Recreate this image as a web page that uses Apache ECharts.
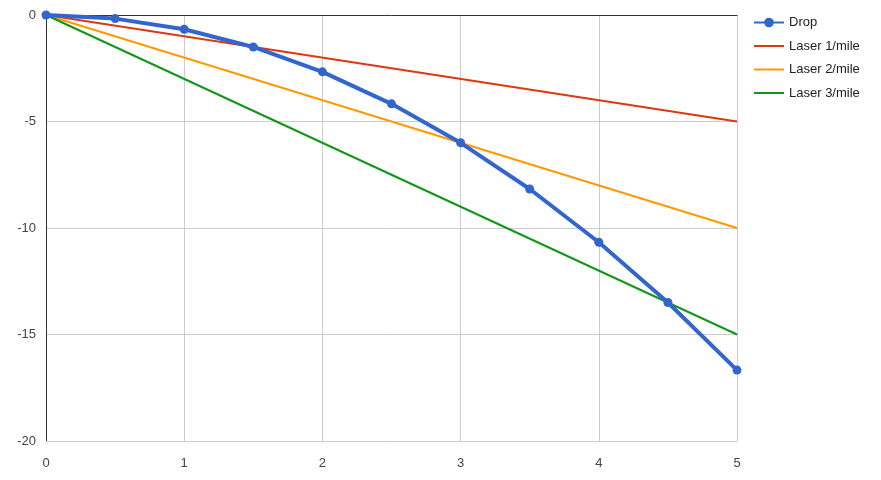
<!DOCTYPE html>
<html>
<head>
<meta charset="utf-8">
<script src="https://cdn.jsdelivr.net/npm/echarts@6/dist/echarts.min.js"></script>
<style>html,body{margin:0;padding:0;background:#fff}#c{width:881px;height:480px}</style>
</head>
<body>
<div id="c"></div>
<script>
const miles = [0, 0.5, 1, 1.5, 2, 2.5, 3, 3.5, 4, 4.5, 5];
const drop = [0, -0.17, -0.67, -1.5, -2.67, -4.17, -6, -8.17, -10.67, -13.5, -16.67];
const laserX = [0, 5];
const laser1 = [0, -5];
const laser2 = [0, -10];
const laser3 = [0, -15];
const seriesNames = ['Drop', 'Laser 1/mile', 'Laser 2/mile', 'Laser 3/mile'];
const yTicks = [0, -5, -10, -15, -20];

const font = 'Liberation Sans, Arial, sans-serif';
const lineIcon = 'path://M0,0 L30,0 L30,2 L0,2 Z';
const chart = echarts.init(document.getElementById('c'));
const pairs = (xs, ys) => xs.map((x, i) => [x, ys[i]]);
chart.setOption({
  animation: false,
  grid: { left: 46, top: 15, right: 144, bottom: 39 },
  legend: {
    orient: 'vertical', left: 753, top: 16, padding: 0, itemWidth: 30, itemHeight: 12, itemGap: 10.5,
    textStyle: { fontSize: 13, fontFamily: font, color: '#222' },
    data: [
      { name: seriesNames[0] },
      { name: seriesNames[1], icon: lineIcon },
      { name: seriesNames[2], icon: lineIcon },
      { name: seriesNames[3], icon: lineIcon }
    ]
  },
  xAxis: [{
    type: 'value', min: 0, max: 5, interval: 1, position: 'bottom',
    axisLine: { onZero: false, lineStyle: { color: '#ccc' } },
    axisTick: { show: false },
    axisLabel: { margin: 16, fontSize: 13, fontFamily: font, color: '#444' },
    splitLine: { lineStyle: { color: '#ccc' } }
  }, {
    type: 'value', min: 0, max: 5, position: 'top',
    axisLine: { onZero: false, lineStyle: { color: '#333' } },
    axisTick: { show: false }, axisLabel: { show: false }, splitLine: { show: false }
  }],
  yAxis: {
    type: 'value', min: yTicks[yTicks.length - 1], max: yTicks[0], interval: 5,
    axisLine: { show: true, onZero: false, lineStyle: { color: '#333' } },
    axisTick: { show: false },
    axisLabel: { margin: 10, fontSize: 13, fontFamily: font, color: '#444' },
    splitLine: { lineStyle: { color: '#ccc' } }
  },
  series: [
    { name: seriesNames[1], type: 'line', data: pairs(laserX, laser1), symbol: 'none',
      lineStyle: { width: 2, color: '#dc3912' }, itemStyle: { color: '#dc3912' } },
    { name: seriesNames[2], type: 'line', data: pairs(laserX, laser2), symbol: 'none',
      lineStyle: { width: 2, color: '#ff9900' }, itemStyle: { color: '#ff9900' } },
    { name: seriesNames[3], type: 'line', data: pairs(laserX, laser3), symbol: 'none',
      lineStyle: { width: 2, color: '#109618' }, itemStyle: { color: '#109618' } },
    { name: seriesNames[0], type: 'line', data: pairs(miles, drop), symbol: 'circle', symbolSize: 9,
      lineStyle: { width: 4, color: '#3366cc' }, itemStyle: { color: '#3366cc' }, z: 5 }
  ]
});
</script>
</body>
</html>
